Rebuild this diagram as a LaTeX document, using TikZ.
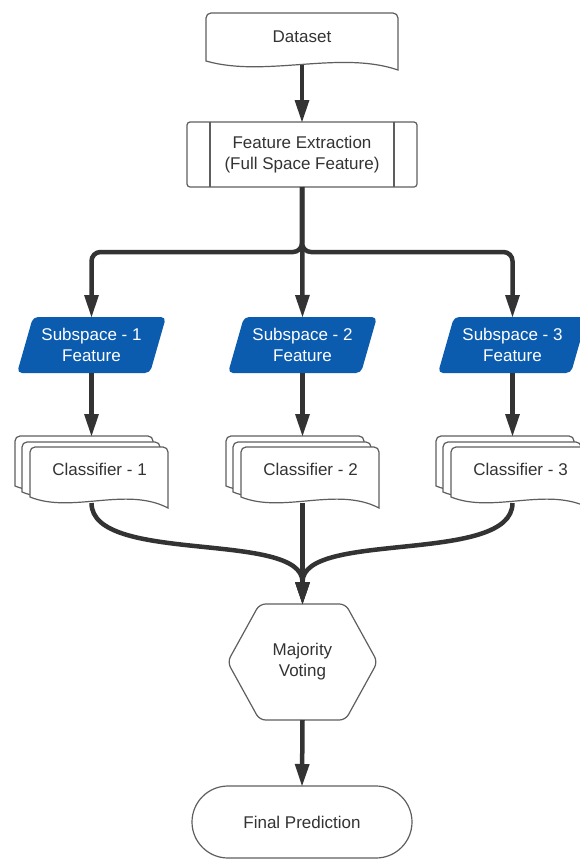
\documentclass[tikz,border=0pt]{standalone}
\usepackage{fontspec}
\setmainfont{Liberation Sans}
\usetikzlibrary{arrows.meta,calc}
\definecolor{lineclr}{HTML}{333333}
\definecolor{edgegray}{HTML}{5E5E5E}
\definecolor{txtgray}{HTML}{333333}
\definecolor{subblue}{HTML}{0B5CAF}
\pgfdeclarelayer{background}
\pgfsetlayers{background,main}

\begin{document}
\begin{tikzpicture}[x=1pt,y=-1pt,
  txt/.style={font=\fontsize{17}{21}\selectfont,text=txtgray,align=center,inner sep=0pt,outer sep=0pt},
  outline/.style={draw=edgegray,line width=1.2pt,fill=white},
  arr/.style={line width=4.5pt,draw=lineclr,-{Triangle[length=22pt,width=15pt,line width=0pt]}}]
\useasboundingbox (0,0) rectangle (579,860);
\begin{pgfonlayer}{background}
\fill[white] (0,0) rectangle (579,860);
\end{pgfonlayer}

% top part
\node[txt,minimum width=192pt,minimum height=48pt] (data) at (302,37) {Dataset};
\node[txt,outline,rounded corners=3pt,minimum width=230pt,minimum height=65pt] (fe) at (302,154.5)
  {Feature Extraction\\(Full Space Feature)};
\draw[edgegray,line width=1.2pt] ([xshift=23pt]fe.north west) -- ([xshift=23pt]fe.south west);
\draw[edgegray,line width=1.2pt] ([xshift=-23pt]fe.north east) -- ([xshift=-23pt]fe.south east);
\begin{pgfonlayer}{background}
\draw[outline] (data.south west) [rounded corners=5pt] -- (data.north west) -- (data.north east)
  -- ([yshift=10pt]data.south east) [sharp corners] -- ([yshift=-9pt]data.south east)
  .. controls +(-58,-20) and +(59,17) .. (data.south west) -- cycle;
\end{pgfonlayer}
\coordinate (split) at (302,252);

% three branches
\foreach \c/\n in {91/1,302/2,512/3}{
  \node[txt,text=white,minimum width=149pt,minimum height=56pt] (sub\n) at (\c+0.5,345) {Subspace - \n\\Feature};
  \node[txt,minimum width=153pt,minimum height=67pt] (cls\n) at (\c+0.5,469.5) {};
  \node[txt] (clst\n) at ([xshift=8pt]cls\n.center) {Classifier - \n};
  \begin{pgfonlayer}{background}
  \fill[subblue,rounded corners=5pt] (sub\n.north) -- (sub\n.north east) -- ([xshift=-16pt]sub\n.south east)
    -- (sub\n.south west) -- ([xshift=16pt]sub\n.north west) -- cycle;
  \foreach \dx/\dy in {-15/-11,-8/-5,0/0}{
    \filldraw[outline] ({\c-61+\dx},{497+\dy}) [rounded corners=5pt] -- ({\c-61+\dx},{447+\dy})
      -- ({\c+77+\dx},{447+\dy}) -- ({\c+77+\dx},{477+\dy}) [sharp corners] -- ({\c+77+\dx},{508+\dy})
      .. controls +(-42,-22) and +(42,17) .. ({\c-61+\dx},{497+\dy}) -- cycle;
  }
  \end{pgfonlayer}
  \draw[arr] (sub\n.south) -- (cls\n.north);
}

% bottom part
\node[txt,minimum width=150pt,minimum height=116pt] (vote) at (302.5,662) {Majority\\Voting};
\begin{pgfonlayer}{background}
\draw[outline,rounded corners=6pt] (vote.north) -- ([xshift=-32pt]vote.north east) -- (vote.east)
  -- ([xshift=-32pt]vote.south east) -- ([xshift=32pt]vote.south west) -- (vote.west)
  -- ([xshift=32pt]vote.north west) -- cycle;
\end{pgfonlayer}
\node[txt,outline,rounded corners=36pt,minimum width=220pt,minimum height=72pt] (final) at (302,822) {Final Prediction};

% connectors
\draw[arr] ([yshift=-4pt]data.south) -- (fe.north);
\draw[arr] (fe.south) -- (sub2.north);
\draw[arr,rounded corners=9pt] (fe.south) -- (split) -| (sub1.north);
\draw[arr,rounded corners=9pt] (fe.south) -- (split) -| (sub3.north);
\draw[arr] (cls1.south) .. controls +(0,62) and +(0,-74) .. (vote.north);
\draw[arr] (cls2.south) -- (vote.north);
\draw[arr] (cls3.south) .. controls +(0,62) and +(0,-74) .. (vote.north);
\draw[arr] (vote.south) -- (final.north);
\end{tikzpicture}
\end{document}
